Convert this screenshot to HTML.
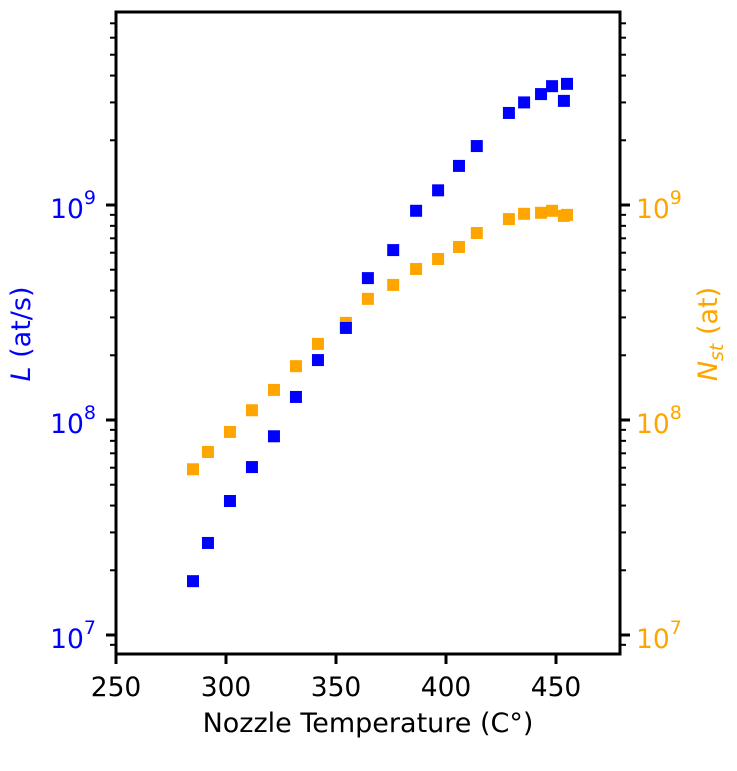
<!DOCTYPE html>
<html><head><meta charset="utf-8"><style>
body{margin:0;background:#fff;}
svg text{font-family:"DejaVu Sans","Liberation Sans",sans-serif;}
</style></head><body>
<svg id="chart" width="737" height="766" xmlns="http://www.w3.org/2000/svg"></svg>
<script>
const temps=[285,291.8,301.8,311.8,321.8,331.8,341.8,354.5,364.5,376,386.4,396.4,405.9,414,428.6,435.5,443.2,448.2,453.6,455];
const rateL=[1.78e7,2.68e7,4.2e7,6.04e7,8.4e7,1.28e8,1.9e8,2.68e8,4.57e8,6.17e8,9.4e8,1.17e9,1.52e9,1.88e9,2.68e9,3.0e9,3.28e9,3.57e9,3.05e9,3.66e9];
const atomsN=[5.9e7,7.1e7,8.8e7,1.11e8,1.38e8,1.78e8,2.26e8,2.83e8,3.66e8,4.25e8,5.04e8,5.61e8,6.38e8,7.41e8,8.6e8,9.1e8,9.2e8,9.4e8,8.9e8,9.0e8];
const xTicks=[250,300,350,400,450];
const yDecades=[7,8,9];
const NS="http://www.w3.org/2000/svg";
const svg=document.getElementById('chart');
const L=116,R=620,T=12,B=654;
const xs=t=>L+(t-250)*2.2;
const ys=v=>205-(Math.log10(v)-9)*215;
function mk(tag,attrs,txt){const e=document.createElementNS(NS,tag);for(const k in attrs)e.setAttribute(k,attrs[k]);if(txt!=null)e.textContent=txt;svg.appendChild(e);return e;}
// series
temps.forEach((t,i)=>{
 let o=mk('rect',{x:xs(t)-6,y:ys(atomsN[i])-6,width:12,height:12,fill:'#ffa500'});
 
 
});
temps.forEach((t,i)=>{
 let b=mk('rect',{x:xs(t)-6,y:ys(rateL[i])-6,width:12,height:12,fill:'#0000ff'});
 
 
});
// frame
let f=mk('rect',{x:L,y:T,width:R-L,height:B-T,fill:'none',stroke:'#000','stroke-width':3});


// x ticks
xTicks.forEach(t=>{const x=xs(t);
 let l=mk('line',{x1:x,x2:x,y1:B,y2:B+10,stroke:'#000','stroke-width':3});
 
 
 let tx=mk('text',{x:x,y:B+42,'font-size':26.5,'text-anchor':'middle'},String(t));
 
 
});
// y ticks both sides
for(let d=6;d<=9;d++){for(let m=1;m<10;m++){const v=m*Math.pow(10,d);const y=ys(v);if(y<T||y>B)continue;
 const len=m===1?10:6;
 let a=mk('line',{x1:L,x2:L-len,y1:y,y2:y,stroke:'#000','stroke-width':m===1?3:2});
 
 
 let b=mk('line',{x1:R,x2:R+len,y1:y,y2:y,stroke:'#000','stroke-width':m===1?3:2});
 
 
}}
yDecades.forEach(d=>{const y=ys(Math.pow(10,d));
 let t1=mk('text',{x:L-20,y:y+13,'font-size':26.5,'text-anchor':'end',fill:'#0000ff'});
 t1.innerHTML='10<tspan dy="-14" font-size="19">'+d+'</tspan>';
 
 
 let t2=mk('text',{x:R+16,y:y+13,'font-size':26.5,fill:'#ffa500'});
 t2.innerHTML='10<tspan dy="-14" font-size="19">'+d+'</tspan>';
 
 
});
// axis titles
let xt=mk('text',{x:368,y:732,'font-size':27,'text-anchor':'middle'},'Nozzle Temperature (C°)');


let yl=mk('text',{x:0,y:0,'font-size':27,'text-anchor':'middle',fill:'#0000ff',transform:'translate(30,334) rotate(-90)'});
yl.innerHTML='<tspan font-style="italic">L</tspan> (at/s)';


let yr=mk('text',{x:0,y:0,'font-size':27,'text-anchor':'middle',fill:'#ffa500',transform:'translate(717,334) rotate(-90)'});
yr.innerHTML='<tspan font-style="italic">N</tspan><tspan font-style="italic" dy="6" font-size="19">st</tspan><tspan dy="-6"> (at)</tspan>';


</script>
</body></html>
